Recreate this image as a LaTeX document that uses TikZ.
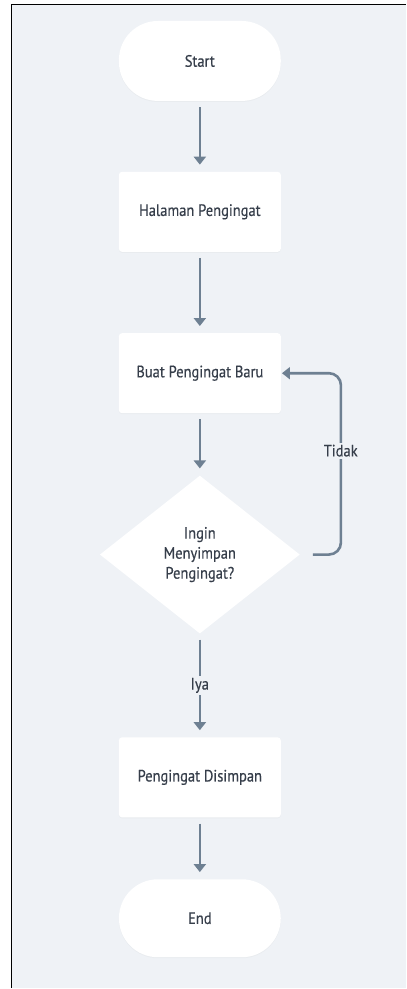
\documentclass[tikz,border=0pt]{standalone}
\usepackage{fontspec}
\setmainfont[FakeStretch=0.88,FakeBold=0.4]{PT Sans}
\usetikzlibrary{shapes.geometric,arrows.meta,shadows}
\definecolor{canvasbg}{HTML}{EFF2F6}
\definecolor{flowline}{HTML}{6E8092}
\definecolor{labeltext}{HTML}{363E4A}
\begin{document}
\begin{tikzpicture}[x=1pt,y=-1pt,
  every node/.style={font=\fontsize{16.5}{20}\selectfont, text=labeltext},
  softshadow/.style={drop shadow={opacity=0.05, shadow xshift=0pt, shadow yshift=-1pt}},
  terminal/.style={rectangle, rounded corners=39pt, fill=white, minimum width=162pt, minimum height=80pt, softshadow},
  process/.style={rectangle, rounded corners=3pt, fill=white, minimum width=162pt, minimum height=80pt, softshadow},
  decision/.style={diamond, fill=white, minimum width=200pt, minimum height=158pt, inner sep=0pt, align=center, font=\fontsize{16.5}{20}\selectfont},
  flow/.style={draw=flowline, line width=2.6pt, -{Triangle[width=12pt,length=8pt]}, shorten <=6pt, shorten >=7pt},
  edgelabel/.style={fill=canvasbg, inner sep=2pt}
]
% page frame and canvas
\fill[white] (0,0) rectangle (406,989);
\fill[canvasbg] (12,5) rectangle (406,989);
\draw[black, line width=1.6pt] (11.5,989) -- (11.5,4.5) -- (406,4.5);
\useasboundingbox (0,0) rectangle (406,989);

% shapes
\node[terminal] (start) at (200,61) {Start};
\node[process] (hal) at (200,212) {Halaman Pengingat};
\node[process] (buat) at (200,373.5) {Buat Pengingat Baru};
\node[decision] (tanya) at (200,555) {Ingin\\Menyimpan\\Pengingat?};
\node[process] (simpan) at (200,778) {Pengingat Disimpan};
\node[terminal, minimum height=78pt] (end) at (200,919) {End};

% connectors
\draw[flow] (start) -- (hal);
\draw[flow] (hal) -- (buat);
\draw[flow] (buat) -- (tanya);
\draw[flow] (tanya) -- node[edgelabel] (iya) {Iya} (simpan);
\draw[flow] (simpan) -- (end);
\draw[flow, shorten >=1pt, rounded corners=12pt]
  ([xshift=7pt]tanya.east) -| ([xshift=60pt]buat.east) -- (buat.east);
\node[edgelabel] (tidak) at (341,451) {Tidak};
\end{tikzpicture}
\end{document}
